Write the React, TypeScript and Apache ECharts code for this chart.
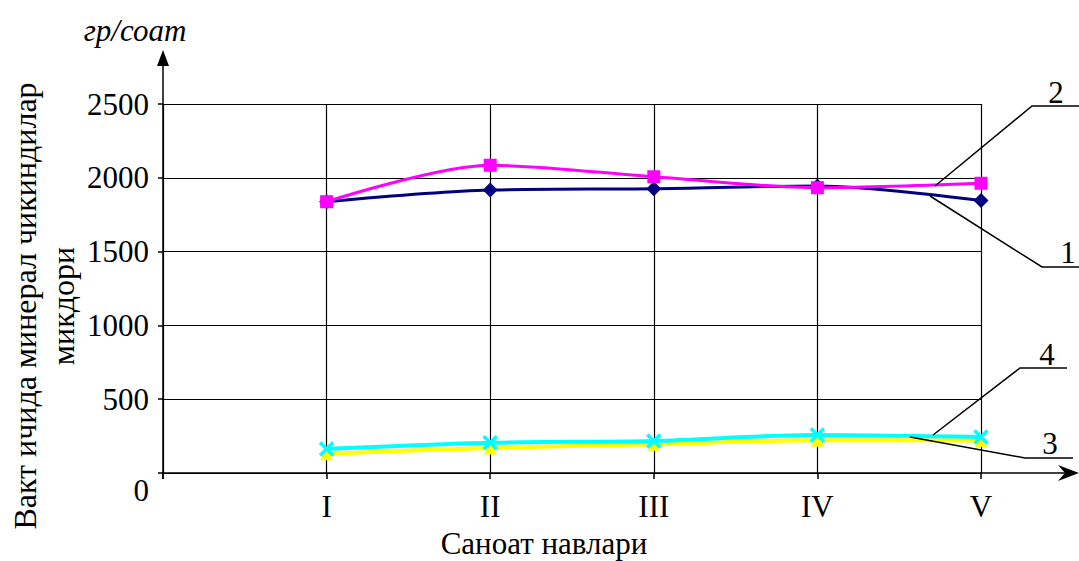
import React, { useEffect, useRef } from "react";
import * as echarts from "echarts";

const categories = ["I", "II", "III", "IV", "V"];
const yMin = 0;
const yMax = 2500;
const yStep = 500;
const series1 = [1838, 1917, 1926, 1945, 1846]; // 1 navy
const series2 = [1838, 2085, 2007, 1933, 1963]; // 2 magenta
const series3 = [130, 170, 195, 222, 220]; // 3 yellow
const series4 = [163, 205, 217, 258, 244]; // 4 cyan
const yAxisTitle = "Вакт ичида минерал чикиндилар\nмикдори";
const unitTitle = "гр/соат";
const xAxisTitle = "Саноат навлари";
const seriesLabels = ["1", "2", "3", "4"];

const FONT = "Liberation Serif";

const toPts = (vals: number[]) => vals.map((v, i) => [i + 1, v]);

export default function App() {
  const ref = useRef<HTMLDivElement>(null);
  useEffect(() => {
    if (!ref.current) return;
    const chart = echarts.init(ref.current, undefined, { renderer: "svg" });
    const lineBlack = { stroke: "#000", lineWidth: 1.5 };
    const txt = (text: string, x: number, y: number, extra: any = {}) => ({
      type: "text",
      x,
      y,
      z: 100,
      ...extra,
      style: {
        text,
        fill: "#000",
        fontSize: 31,
        fontFamily: FONT,
        textAlign: "center",
        align: "center",
        textVerticalAlign: "middle",
        verticalAlign: "middle",
        ...(extra.style || {}),
      },
    });
    chart.setOption({
      animation: false,
      backgroundColor: "#fff",
      textStyle: { fontFamily: FONT },
      grid: { left: 163, right: 98, top: 104, bottom: 88, containLabel: false },
      xAxis: {
        type: "value",
        min: 0,
        max: categories.length,
        interval: 1,
        axisLine: { show: false },
        axisTick: { show: true, length: 6, lineStyle: { color: "#000", width: 1.5 } },
        splitLine: { show: true, lineStyle: { color: "#000", width: 1.2 } },
        axisLabel: {
          margin: 18,
          color: "#000",
          fontSize: 31,
          fontFamily: FONT,
          formatter: (v: number) => (v >= 1 && v <= categories.length ? categories[v - 1] : ""),
        },
      },
      yAxis: {
        type: "value",
        min: yMin,
        max: yMax,
        interval: yStep,
        axisLine: { show: false },
        axisTick: { show: true, length: 5, lineStyle: { color: "#000", width: 1.5 } },
        splitLine: { show: true, lineStyle: { color: "#000", width: 1.2 } },
        axisLabel: {
          margin: 14,
          color: "#000",
          fontSize: 31,
          fontFamily: FONT,
          formatter: (v: number) => (v === 0 ? "{z|0}" : String(v)),
          rich: {
            z: { padding: [34, 0, 0, 0], fontSize: 31, fontFamily: FONT, color: "#000" },
          },
        },
      },
      series: [
        {
          name: "1",
          type: "line",
          data: toPts(series1),
          smooth: 0.3,
          symbol: "diamond",
          symbolSize: 15,
          lineStyle: { color: "#000080", width: 3 },
          itemStyle: { color: "#000080" },
          z: 2,
        },
        {
          name: "2",
          type: "line",
          data: toPts(series2),
          smooth: 0.3,
          symbol: "rect",
          symbolSize: 13,
          lineStyle: { color: "#FF00FF", width: 3 },
          itemStyle: { color: "#FF00FF" },
          z: 3,
        },
        {
          name: "3",
          type: "line",
          data: toPts(series3),
          smooth: 0.3,
          symbol: "triangle",
          symbolSize: 13,
          lineStyle: { color: "#FFFF00", width: 4 },
          itemStyle: { color: "#FFFF00" },
          z: 4,
        },
        {
          name: "4",
          type: "line",
          data: toPts(series4),
          smooth: 0.3,
          symbol: "path://M0,0L10,10M10,0L0,10",
          symbolSize: 13,
          lineStyle: { color: "#00FFFF", width: 4 },
          itemStyle: { color: "none", borderColor: "#00FFFF", borderWidth: 3.5 },
          z: 5,
        },
      ],
      graphic: [
        // axes with arrows
        { type: "line", z: 100, shape: { x1: 163, y1: 479, x2: 163, y2: 60 }, style: lineBlack },
        { type: "polygon", z: 100, shape: { points: [[163, 50], [157, 66], [169, 66]] }, style: { fill: "#000" } },
        { type: "line", z: 100, shape: { x1: 163, y1: 473, x2: 1070, y2: 473 }, style: lineBlack },
        {
          type: "polygon",
          z: 100,
          shape: { points: [[1079, 473], [1058, 465], [1065, 473], [1058, 481]] },
          style: { fill: "#000" },
        },
        // leader lines
        { type: "polyline", z: 100, shape: { points: [[935, 186], [1032, 106], [1079, 106]] }, style: { ...lineBlack, fill: "none" } },
        { type: "polyline", z: 100, shape: { points: [[930, 196], [1042, 267], [1079, 267]] }, style: { ...lineBlack, fill: "none" } },
        { type: "polyline", z: 100, shape: { points: [[910, 437], [1025, 458], [1073, 458]] }, style: { ...lineBlack, fill: "none" } },
        { type: "polyline", z: 100, shape: { points: [[933, 435], [1020, 368], [1067, 368]] }, style: { ...lineBlack, fill: "none" } },
        txt(seriesLabels[1], 1056, 92),
        txt(seriesLabels[0], 1068, 252),
        txt(seriesLabels[2], 1050, 443),
        txt(seriesLabels[3], 1047, 354),
        // titles
        txt(unitTitle, 135, 30, { style: { fontStyle: "italic" } }),
        txt(xAxisTitle, 544, 543),
        txt(yAxisTitle, 44, 306, { rotation: Math.PI / 2, style: { fontSize: 32, lineHeight: 38 } }),
      ],
    });
    return () => chart.dispose();
  }, []);
  return (
    <div
      ref={ref}
      style={{ position: "fixed", left: 0, top: 0, width: 1079, height: 561, background: "#fff" }}
    />
  );
}
